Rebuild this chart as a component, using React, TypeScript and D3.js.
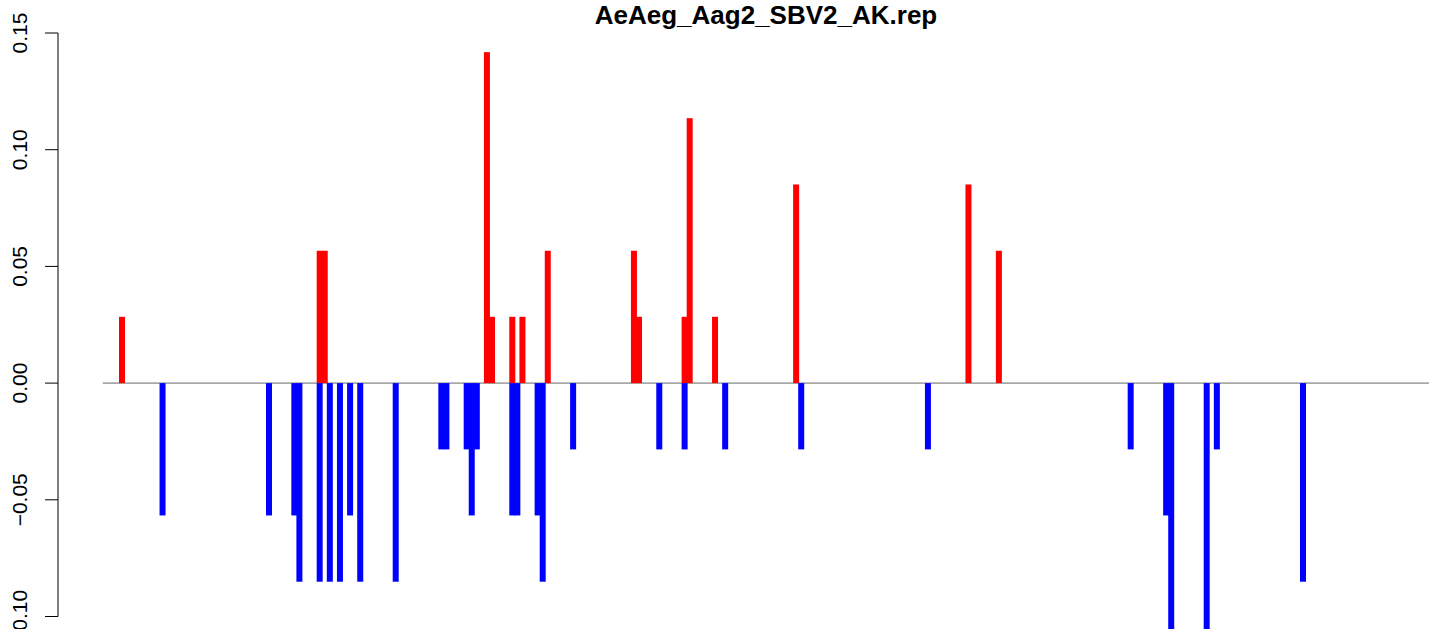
import React from 'react';
import * as d3 from 'd3';

// bin index of each bar along the sequence, and its value
const posBins = [0, 39, 40, 72, 73, 77, 79, 84, 101, 102, 111, 112, 117, 133, 167, 173];
const posValues = [
  0.0284, 0.0567, 0.0567, 0.1418, 0.0284, 0.0284, 0.0284, 0.0567, 0.0567, 0.0284, 0.0284,
  0.1135, 0.0284, 0.0851, 0.0851, 0.0567,
];
const negBins = [
  8, 29, 34, 35, 39, 41, 43, 45, 47, 54, 63, 64, 68, 69, 70, 77, 78, 82, 83, 89, 106, 111,
  119, 134, 159, 199, 206, 207, 214, 216, 233,
];
const negValues = [
  -0.0567, -0.0567, -0.0567, -0.0851, -0.0851, -0.0851, -0.0851, -0.0567, -0.0851, -0.0851,
  -0.0284, -0.0284, -0.0284, -0.0567, -0.0284, -0.0567, -0.0567, -0.0567, -0.0851, -0.0284,
  -0.0284, -0.0284, -0.0284, -0.0284, -0.0284, -0.0284, -0.0567, -0.1135, -0.1135, -0.0284,
  -0.0851,
];
const yTicks = [-0.1, -0.05, 0, 0.05, 0.1, 0.15];
const title = 'AeAeg_Aag2_SBV2_AK.rep';

const W = 1429;
const H = 629;
const font = '"Liberation Sans", Arial, Helvetica, sans-serif';

const App = () => {
  const x = d3.scaleLinear().domain([0, 233]).range([119, 1300]);
  const y = d3.scaleLinear().domain([-0.1, 0.15]).range([616.5, 33]);
  const barW = 6;
  const axisX = 58;

  const pos = posBins.map((b, i) => ({b, v: posValues[i]}));
  const neg = negBins.map((b, i) => ({b, v: negValues[i]}));

  return (
    <svg
      width={W}
      height={H}
      style={{position: 'absolute', left: 0, top: 0, background: '#fff'}}
    >
      <text
        x={766}
        y={24}
        textAnchor="middle"
        fontFamily={font}
        fontWeight="bold"
        fontSize={26}
      >
        {title}
      </text>

      {/* zero line */}
      <line x1={x(-3.2)} x2={W} y1={y(0)} y2={y(0)} stroke="#a8a8a8" strokeWidth={1.6} />

      {pos.map((d, i) => (
        <rect
          key={'p' + i}
          x={x(d.b)}
          y={y(d.v)}
          width={barW}
          height={y(0) - y(d.v)}
          fill="#ff0000"
        />
      ))}
      {neg.map((d, i) => (
        <rect
          key={'n' + i}
          x={x(d.b)}
          y={y(0)}
          width={barW}
          height={y(d.v) - y(0)}
          fill="#0000ff"
        />
      ))}

      {/* y axis */}
      <line x1={axisX} x2={axisX} y1={y(-0.1)} y2={y(0.15)} stroke="#000" strokeWidth={1} />
      {yTicks.map(t => (
        <g key={t}>
          <line x1={axisX - 13} x2={axisX} y1={y(t)} y2={y(t)} stroke="#000" />
          <text
            transform={`translate(27, ${y(t)}) rotate(-90)`}
            textAnchor="middle"
            fontFamily={font}
            fontSize={21}
          >
            {t < 0 ? '\u2212' + Math.abs(t).toFixed(2) : t.toFixed(2)}
          </text>
        </g>
      ))}
    </svg>
  );
};

export default App;
